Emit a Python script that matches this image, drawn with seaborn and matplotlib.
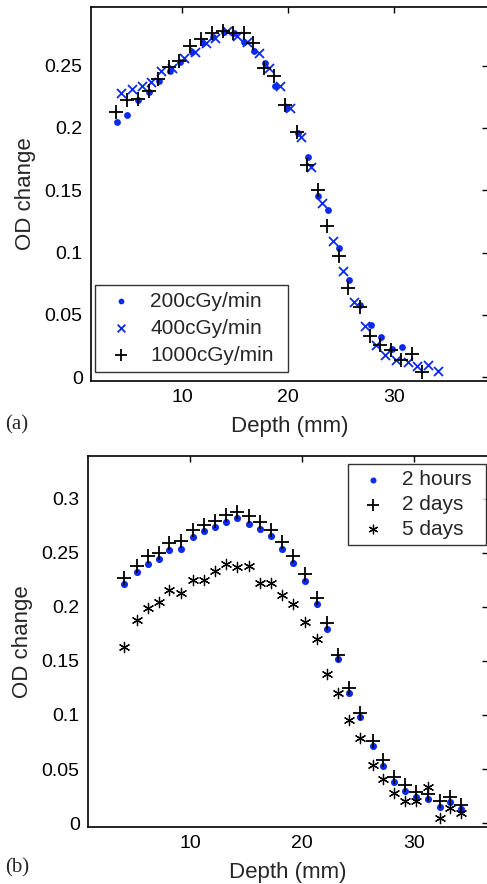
import seaborn as sns
import matplotlib.pyplot as plt

# panel (a): dose-rate dependence
depth_200 = [3.8, 4.8, 5.8, 6.8, 7.8, 8.8, 9.8, 10.9, 11.9, 12.9, 13.9, 14.9, 15.8, 16.8,
             17.8, 18.8, 19.9, 20.9, 21.9, 22.8, 23.8, 24.8, 25.8, 26.8, 27.8, 28.8, 29.8, 30.8]
od_200 = [0.205, 0.210, 0.222, 0.229, 0.238, 0.246, 0.253, 0.261, 0.268, 0.273, 0.277, 0.276,
          0.269, 0.262, 0.252, 0.234, 0.216, 0.196, 0.177, 0.145, 0.134, 0.104, 0.078, 0.058,
          0.042, 0.032, 0.023, 0.024]
depth_400 = [4.2, 5.2, 6.2, 7.0, 8.0, 9.0, 10.1, 11.2, 12.2, 13.1, 14.2, 15.2, 16.1, 17.2, 18.2,
             19.2, 20.2, 21.2, 22.2, 23.2, 24.2, 25.2, 26.2, 27.3, 28.3, 29.2, 30.2, 31.3, 32.2,
             33.2, 34.2]
od_400 = [0.228, 0.231, 0.234, 0.237, 0.246, 0.248, 0.256, 0.261, 0.268, 0.272, 0.278, 0.274,
          0.269, 0.260, 0.248, 0.234, 0.216, 0.193, 0.169, 0.140, 0.109, 0.085, 0.060, 0.041,
          0.026, 0.018, 0.014, 0.012, 0.009, 0.010, 0.005]
depth_1000 = [3.7, 4.75, 5.8, 6.8, 7.7, 8.7, 9.7, 10.7, 11.8, 12.8, 13.8, 14.8, 15.8, 16.7, 17.7,
              18.7, 19.7, 20.8, 21.8, 22.8, 23.7, 24.8, 25.7, 26.8, 27.7, 28.7, 29.7, 30.7, 31.7,
              32.7]
od_1000 = [0.213, 0.222, 0.223, 0.230, 0.239, 0.249, 0.254, 0.266, 0.271, 0.276, 0.278, 0.276,
           0.276, 0.268, 0.248, 0.242, 0.218, 0.197, 0.170, 0.150, 0.121, 0.097, 0.072, 0.056,
           0.033, 0.026, 0.022, 0.014, 0.019, 0.004]

# panel (b): time after irradiation
depth_b = [4.1, 5.2, 6.2, 7.2, 8.1, 9.2, 10.2, 11.2, 12.2, 13.2, 14.2, 15.2, 16.2, 17.2, 18.2,
           19.2, 20.2, 21.3, 22.2, 23.2, 24.2, 25.2, 26.3, 27.2, 28.2, 29.2, 30.2, 31.2, 32.3,
           33.2, 34.2]
od_2h = [0.221, 0.232, 0.240, 0.244, 0.253, 0.254, 0.265, 0.270, 0.274, 0.279, 0.282, 0.277,
         0.272, 0.266, 0.254, 0.241, 0.224, 0.203, 0.180, 0.152, 0.120, 0.098, 0.071, 0.053,
         0.038, 0.030, 0.024, 0.022, 0.015, 0.019, 0.013]
od_2d = [0.227, 0.238, 0.247, 0.250, 0.259, 0.261, 0.271, 0.276, 0.280, 0.285, 0.288, 0.284,
         0.279, 0.271, 0.260, 0.247, 0.231, 0.208, 0.185, 0.156, 0.125, 0.102, 0.076, 0.058,
         0.043, 0.035, 0.029, 0.027, 0.020, 0.024, 0.017]
od_5d = [0.163, 0.188, 0.199, 0.205, 0.216, 0.213, 0.225, 0.225, 0.233, 0.240, 0.237, 0.238,
         0.222, 0.222, 0.211, 0.203, 0.186, 0.170, 0.138, 0.120, 0.095, 0.079, 0.054, 0.041,
         0.028, 0.020, 0.020, 0.033, 0.005, 0.014, 0.009]

sns.set_style("white")
plt.rcParams['font.family'] = ['Liberation Sans', 'DejaVu Sans']

W, H = 487, 884
fig = plt.figure(figsize=(W / 100, H / 100), dpi=100)


def px_axes(left, top, bottom, right=W + 1):
    return fig.add_axes([left / W, 1 - bottom / H, (right - left) / W, (bottom - top) / H])


ax1 = px_axes(91, 7, 381)
ax2 = px_axes(88, 456, 827)

blue = '#0a2af0'

sns.scatterplot(x=depth_200, y=od_200, ax=ax1, marker='o', s=24, color=blue,
                linewidth=0, label='200cGy/min')
sns.scatterplot(x=depth_400, y=od_400, ax=ax1, marker='x', s=42, color=blue,
                linewidth=1.3, label='400cGy/min')
sns.scatterplot(x=depth_1000, y=od_1000, ax=ax1, marker='+', s=100, color='black',
                linewidth=1.3, label='1000cGy/min')

sns.scatterplot(x=depth_b, y=od_2h, ax=ax2, marker='o', s=26, color=blue,
                linewidth=0, label='2 hours')
sns.scatterplot(x=depth_b, y=od_2d, ax=ax2, marker='+', s=90, color='black',
                linewidth=1.3, label='2 days')
sns.scatterplot(x=depth_b, y=od_5d, ax=ax2, marker=(6, 2, 0), s=55, color='black',
                linewidth=0.9, label='5 days')

ax1.set_xlim(1.35, 38.9)
ax1.set_ylim(-0.003, 0.297)
ax1.set_yticks([0, 0.05, 0.1, 0.15, 0.2, 0.25])
ax1.set_yticklabels(['0', '0.05', '0.1', '0.15', '0.2', '0.25'])

ax2.set_xlim(0.85, 36.6)
ax2.set_ylim(-0.0037, 0.3398)
ax2.set_yticks([0, 0.05, 0.1, 0.15, 0.2, 0.25, 0.3])
ax2.set_yticklabels(['0', '0.05', '0.1', '0.15', '0.2', '0.25', '0.3'])

for ax in (ax1, ax2):
    ax.set_xticks([10, 20, 30])
    ax.tick_params(direction='in', length=4, width=1, labelsize=14, top=True, right=True,
                   colors='black', pad=6)
    for sp in ax.spines.values():
        sp.set_color('black')
        sp.set_linewidth(1.2)
    ax.set_xlabel('Depth (mm)', fontsize=16, labelpad=7)
    ax.set_ylabel('OD change', fontsize=16, labelpad=6)

leg1 = ax1.legend(loc='lower left', bbox_to_anchor=(95 / W, 1 - 372 / H, 193 / W, 94 / H),
                  bbox_transform=fig.transFigure, mode='expand', fontsize=15, frameon=True,
                  fancybox=False, borderaxespad=0, handletextpad=0.5, labelspacing=0.38,
                  borderpad=0.35, handlelength=1.8, markerscale=0.85)
leg2 = ax2.legend(loc='upper right', bbox_to_anchor=(348 / W, 1 - 553 / H, 138 / W, 89 / H),
                  bbox_transform=fig.transFigure, mode='expand', fontsize=15, frameon=True,
                  fancybox=False, borderaxespad=0, handletextpad=0.5, labelspacing=0.28,
                  borderpad=0.3, handlelength=1.8, markerscale=0.85)
for leg in (leg1, leg2):
    leg.get_frame().set_edgecolor('black')
    leg.get_frame().set_linewidth(1.0)

fig.text(5 / W, 1 - 425 / H, '(a)', family='Liberation Serif', fontsize=15, va='center')
fig.text(5 / W, 1 - 868 / H, '(b)', family='Liberation Serif', fontsize=15, va='center')

fig.savefig('out.png', dpi=100)
